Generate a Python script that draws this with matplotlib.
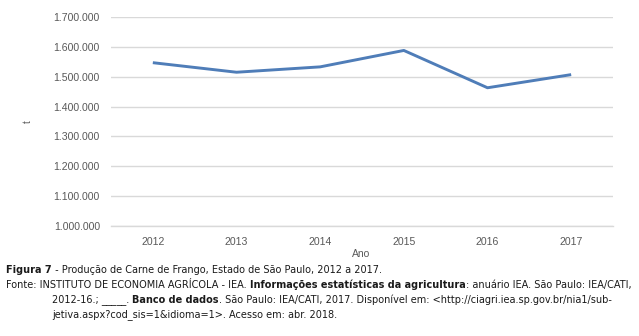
import matplotlib
matplotlib.use("Agg")
import matplotlib.pyplot as plt

years = ["2012", "2013", "2014", "2015", "2016", "2017"]
producao = [1547000, 1515000, 1533000, 1588000, 1463000, 1507000]
y_ticks = [1000000, 1100000, 1200000, 1300000, 1400000, 1500000, 1600000, 1700000]
y_tick_labels = ["1.000.000", "1.100.000", "1.200.000", "1.300.000",
                 "1.400.000", "1.500.000", "1.600.000", "1.700.000"]

caption_lines = [
    (6, [("Figura 7", "bold"), (" - Produção de Carne de Frango, Estado de São Paulo, 2012 a 2017.", "normal")]),
    (6, [("Fonte: INSTITUTO DE ECONOMIA AGRÍCOLA - IEA. ", "normal"),
         ("Informações estatísticas da agricultura", "bold"),
         (": anuário IEA. São Paulo: IEA/CATI,", "normal")]),
    (52, [("2012-16.; _____. ", "normal"), ("Banco de dados", "bold"),
          (". São Paulo: IEA/CATI, 2017. Disponível em: <http://ciagri.iea.sp.gov.br/nia1/sub-", "normal")]),
    (52, [("jetiva.aspx?cod_sis=1&idioma=1>. Acesso em: abr. 2018.", "normal")]),
]


def main():
    W, H = 639, 336
    fig = plt.figure(figsize=(W / 100, H / 100), dpi=100)
    ax = fig.add_axes([111 / W, 1 - 226 / H, (613 - 111) / W, (226 - 17) / H])

    x = list(range(len(years)))
    ax.plot(x, producao, color="#4f7db8", linewidth=2.1, solid_capstyle="butt", zorder=3)

    ax.set_xlim(-0.5, len(years) - 0.5)
    ax.set_ylim(1000000, 1700000)
    ax.set_yticks(y_ticks)
    ax.set_yticklabels(y_tick_labels)
    ax.set_xticks(x)
    ax.set_xticklabels(years)
    ax.grid(axis="y", color="#d9d9d9", linewidth=1.0)
    ax.set_axisbelow(True)
    for side in ["top", "right", "left"]:
        ax.spines[side].set_visible(False)
    ax.spines["bottom"].set_color("#d9d9d9")
    ax.spines["bottom"].set_linewidth(1.0)
    ax.tick_params(length=0, colors="#595959", labelsize=7.6, pad=8)
    for lab in ax.get_xticklabels() + ax.get_yticklabels():
        lab.set_fontfamily("Liberation Sans")

    fig.text(28 / W, 1 - 122 / H, "t", rotation=90, ha="center", va="center",
             fontsize=7, color="#595959", family="Liberation Sans")
    fig.text(361 / W, 1 - 254 / H, "Ano", ha="center", va="center",
             fontsize=7.5, color="#595959", family="Liberation Sans")

    # caption: place bold and normal pieces one after another
    renderer = fig.canvas.get_renderer()
    line_y = [270, 285, 300, 315]
    for (x0, parts), yy in zip(caption_lines, line_y):
        xpos = x0
        for txt, weight in parts:
            t = fig.text(xpos / W, 1 - yy / H, txt, ha="left", va="center",
                         fontsize=7.0, fontweight=weight, color="#1a1a1a",
                         family="DejaVu Sans")
            bb = t.get_window_extent(renderer=renderer)
            xpos += bb.width

    fig.savefig("out.png", dpi=100, facecolor="white")


if __name__ == "__main__":
    main()
